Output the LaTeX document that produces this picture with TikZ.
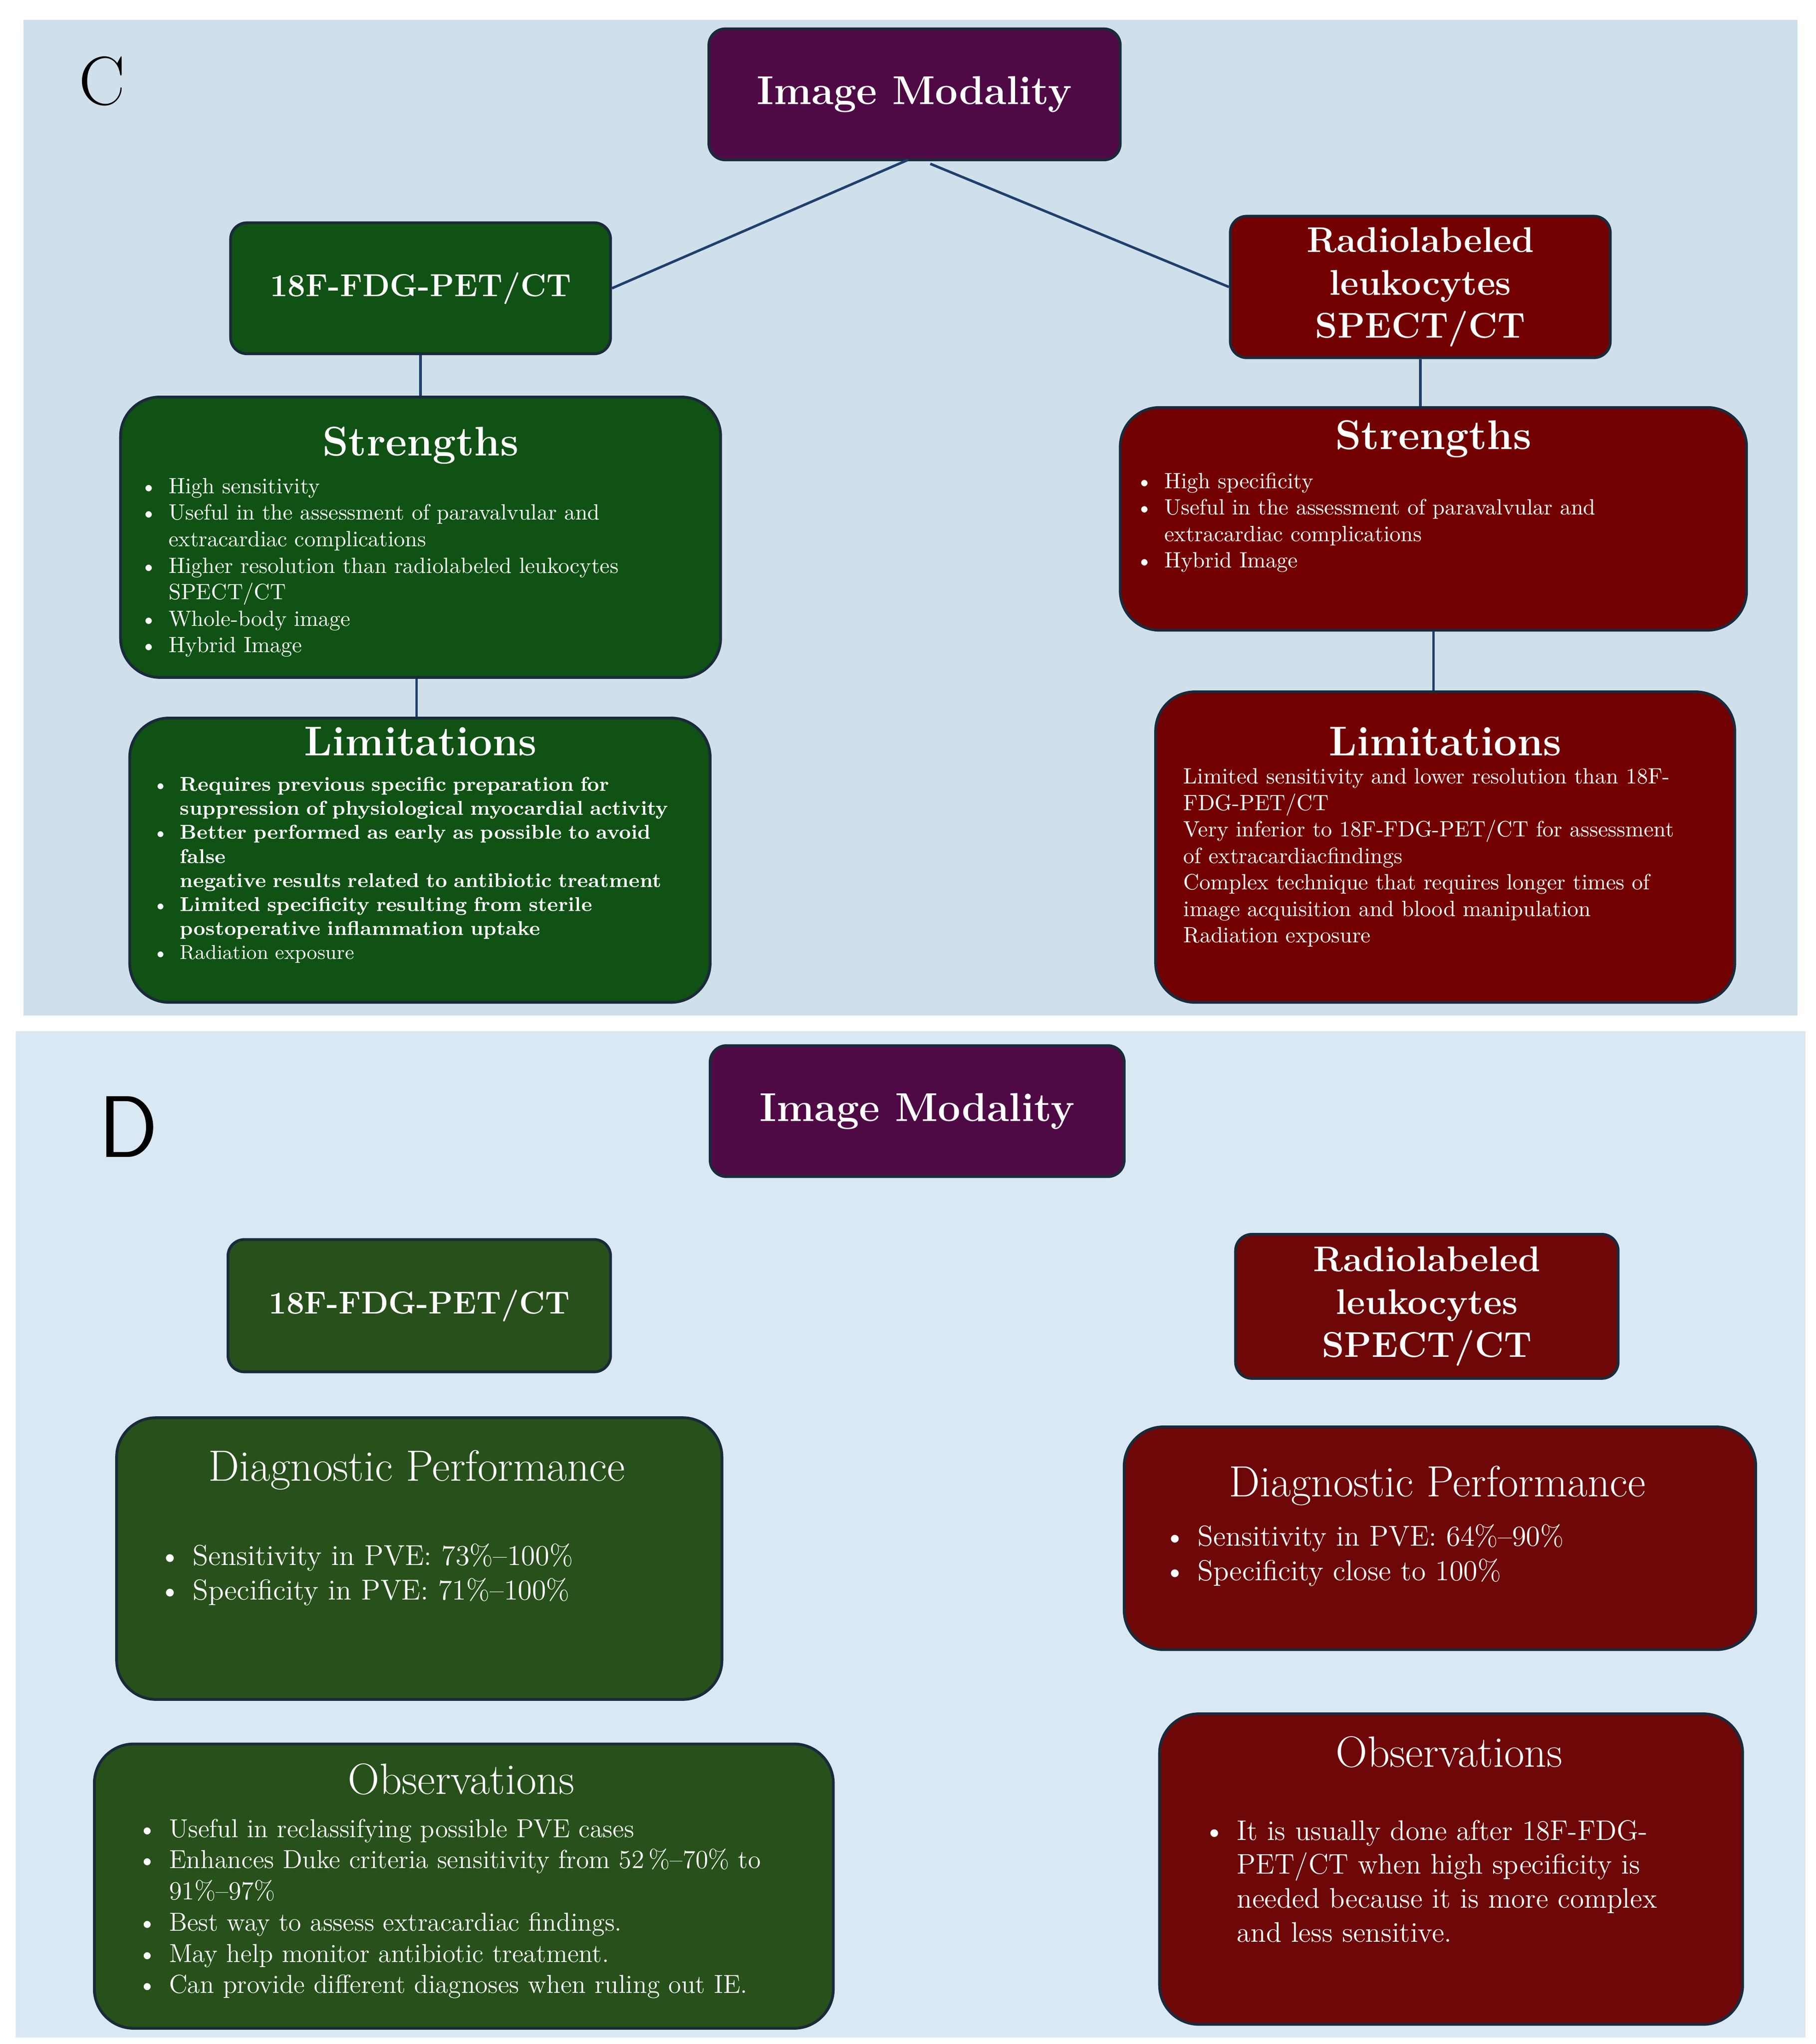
\documentclass[tikz,border=0pt]{standalone}
\usepackage{tikz}
\usepackage{enumitem}
\usetikzlibrary{fit}
\definecolor{bgC}{HTML}{CFE0EA}
\definecolor{bgD}{HTML}{DAE8F4}
\definecolor{purp}{HTML}{4F0A45}
\definecolor{grnC}{HTML}{0F5214}
\definecolor{redC}{HTML}{730000}
\definecolor{grnD}{HTML}{27501B}
\definecolor{redD}{HTML}{6E0707}
\definecolor{edge}{HTML}{1A2A3A}
\definecolor{link}{HTML}{1F3F6F}
\newcommand{\fs}[1]{\fontsize{#1}{1.2\dimexpr#1pt\relax}\selectfont}
\newenvironment{blist}[1]{\begin{itemize}[leftmargin=#1,itemsep=0pt,topsep=0pt,parsep=0pt,partopsep=0pt]}{\end{itemize}}

\tikzset{
  box/.style={draw=edge, line width=1.2pt, inner sep=0pt},
  sbox/.style={box, rounded corners=0.25cm},
  lbox/.style={box, rounded corners=0.6cm},
  ttl/.style={text=white, font=\bfseries\fs{15.5}, align=center},
  head/.style={text=white, font=\bfseries\fs{18}},
  headD/.style={text=white, font=\fs{19}},
  body/.style={text=white, anchor=north west, inner sep=0pt, align=left},
  link/.style={draw=link, line width=1.1pt}
}

\begin{document}
\begin{tikzpicture}[x=0.02cm,y=-0.02cm]
\useasboundingbox (0,0) rectangle (1386,1560);
\fill[white] (0,0) rectangle (1386,1560);
\fill[bgC] (18,15) rectangle (1372,775);
\fill[bgD] (12,787) rectangle (1378,1555);

% panel C
\node[font=\fs{30}] (labC) at (78,62) {C};
\node[sbox, fill=purp, fit={(541,22)(855,122)}] (imC) {};
\node[ttl, font=\bfseries\fs{17.5}] at (imC) {Image Modality};
\node[sbox, fill=grnC, fit={(176,170)(466,270)}] (petC) {};
\node[ttl, font=\bfseries\fs{13.8}] at (petC) {18F-FDG-PET/CT};
\node[sbox, fill=redC, fit={(939,165)(1229,273)}] (wbcC) {};
\node[ttl] at (wbcC) {Radiolabeled\\leukocytes\\SPECT/CT};
\node[lbox, fill=grnC, fit={(92,303)(550,517)}] (strL) {};
\node[lbox, fill=redC, fit={(855,311)(1333,481)}] (strR) {};
\node[lbox, fill=grnC, fit={(99,548)(542,765)}] (limL) {};
\node[lbox, fill=redC, fit={(882,528)(1324,765)}] (limR) {};

\coordinate (imL) at (693,122);
\coordinate (imR) at (710,125);
\draw[link] (imL) -- (petC.east);
\draw[link] (imR) -- (wbcC.west);
\draw[link] (petC.south) -- (strL.north -| petC.south);
\draw[link] (wbcC.south) -- (strR.north -| wbcC.south);
\draw[link] (strL.south -| 318,0) -- (limL.north -| 318,0);
\draw[link] (strR.south) -- (limR.north -| strR.south);

\node[head] at (321,340) {Strengths};
\node[body, text width=8.5cm, font=\fs{9.6}] at (110,356) {\begin{blist}{10.5pt}
\item High sensitivity
\item Useful in the assessment of paravalvular and\\extracardiac complications
\item Higher resolution than radiolabeled leukocytes\\SPECT/CT
\item Whole-body image
\item Hybrid Image
\end{blist}};
\node[head] at (1094,335) {Strengths};
\node[body, text width=8.5cm, font=\fs{9.6}] at (870,352) {\begin{blist}{10.5pt}
\item High specificity
\item Useful in the assessment of paravalvular and\\extracardiac complications
\item Hybrid Image
\end{blist}};
\node[head] at (321,566) {Limitations};
\node[body, text width=8.4cm, font=\fs{8.7}] at (116,585) {\begin{blist}{12pt}
\item \textbf{Requires previous specific preparation for}\\\textbf{suppression of physiological myocardial activity}
\item \textbf{Better performed as early as possible to avoid}\\\textbf{false}\\\textbf{negative results related to antibiotic treatment}
\item \textbf{Limited specificity resulting from sterile}\\\textbf{postoperative inflammation uptake}
\item Radiation exposure
\end{blist}};
\node[head] at (1103,566) {Limitations};
\node[body, text width=8cm, font=\fs{9.6}] at (903,586) {Limited sensitivity and lower resolution than 18F-\\FDG-PET/CT\\
Very inferior to 18F-FDG-PET/CT for assessment\\of extracardiacfindings\\
Complex technique that requires longer times of\\image acquisition and blood manipulation\\
Radiation exposure};

% panel D
\node[font=\sffamily\fs{38}] (labD) at (98,860) {D};
\node[sbox, fill=purp, fit={(542,798)(858,898)}] (imD) {};
\node[ttl, font=\bfseries\fs{17.5}] at (imD) {Image Modality};
\node[sbox, fill=grnD, fit={(174,946)(466,1047)}] (petD) {};
\node[ttl, font=\bfseries\fs{13.8}] at (petD) {18F-FDG-PET/CT};
\node[sbox, fill=redD, fit={(943,942)(1235,1052)}] (wbcD) {};
\node[ttl] at (wbcD) {Radiolabeled\\leukocytes\\SPECT/CT};
\node[lbox, fill=grnD, fit={(89,1082)(551,1297)}] (dpL) {};
\node[lbox, fill=redD, fit={(858,1089)(1340,1259)}] (dpR) {};
\node[lbox, fill=grnD, fit={(72,1331)(636,1548)}] (obsL) {};
\node[lbox, fill=redD, fit={(885,1308)(1330,1545)}] (obsR) {};

\node[headD] at (318,1122) {Diagnostic Performance};
\node[body, text width=8.5cm, font=\fs{12.5}] at (108,1168) {\begin{blist}{22pt}
\item Sensitivity in PVE: 73\%--100\%
\item Specificity in PVE: 71\%--100\%
\end{blist}};
\node[headD] at (1097,1134) {Diagnostic Performance};
\node[body, text width=9cm, font=\fs{12.5}] at (875,1153) {\begin{blist}{22pt}
\item Sensitivity in PVE: 64\%--90\%
\item Specificity close to 100\%
\end{blist}};
\node[headD] at (352,1358) {Observations};
\node[body, text width=10.6cm, font=\fs{11.3}] at (90,1378) {\begin{blist}{22pt}
\item Useful in reclassifying possible PVE cases
\item Enhances Duke criteria sensitivity from 52\,\%--70\% to\\91\%--97\%
\item Best way to assess extracardiac findings.
\item May help monitor antibiotic treatment.
\item Can provide different diagnoses when ruling out IE.
\end{blist}};
\node[headD] at (1106,1337) {Observations};
\node[body, text width=8cm, font=\fs{12.3}] at (905,1378) {\begin{blist}{22pt}
\item It is usually done after 18F-FDG-\\PET/CT when high specificity is\\needed because it is more complex\\and less sensitive.
\end{blist}};
\end{tikzpicture}
\end{document}
